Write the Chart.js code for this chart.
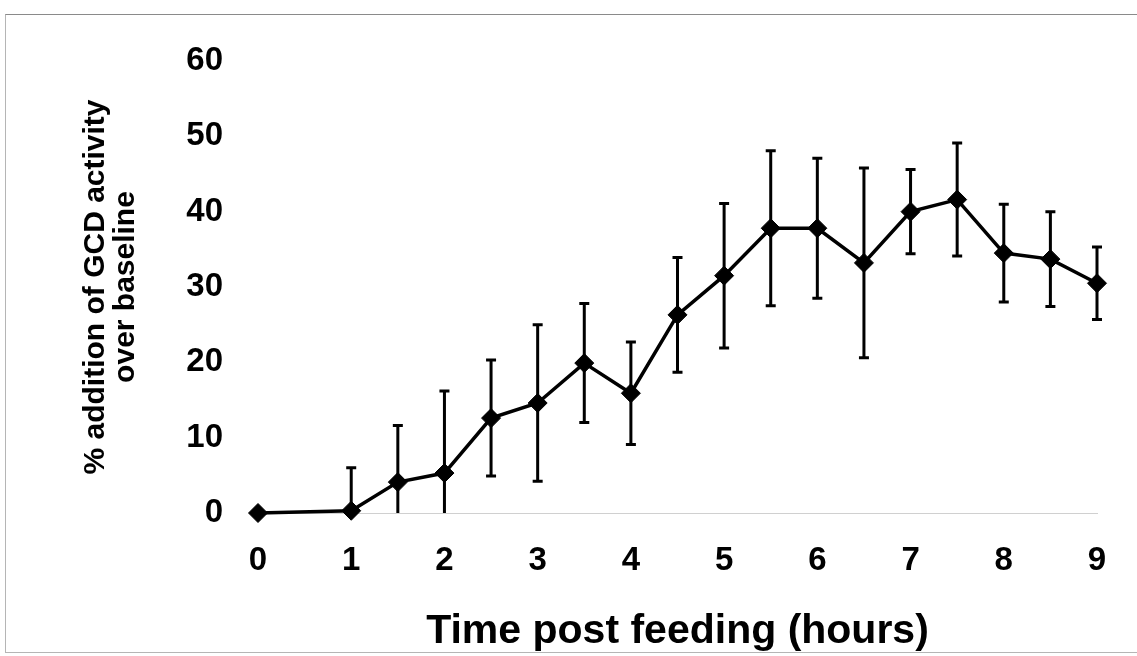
<!doctype html>
<html>

<head>
    <title>GCD activity</title>
    <script src="https://cdn.jsdelivr.net/npm/chart.js"></script>
    <style>
        body {
            margin: 0;
            background: #fff;
        }

        .quadro {
            position: absolute;
            left: 5px;
            top: 14px;
            width: 1140px;
            height: 637px;
            border-left: 1px solid #b5b5b5;
            border-top: 1px solid #8a8a8a;
            border-bottom: 1px solid #b5b5b5;
        }

        #grafico {
            position: absolute;
            left: 0;
            top: 0;
        }
    </style>
</head>

<body>
    <div class="quadro"></div>
    <canvas id="grafico" width="1137" height="656"></canvas>

    <script>
        // horas apos alimentacao
        var horas = [0, 1, 1.5, 2, 2.5, 3, 3.5, 4, 4.5, 5, 5.5, 6, 6.5, 7, 7.5, 8, 8.5, 9]
        // % de adicao da atividade GCD sobre a linha de base
        var medias = [0, 0.3, 4.1, 5.3, 12.6, 14.6, 19.9, 15.9, 26.3, 31.5, 37.8, 37.8, 33.2, 40.0, 41.6, 34.5, 33.7, 30.5]
        // barras de erro (+/-)
        var erros = [0, 5.7, 7.5, 10.9, 7.7, 10.4, 7.9, 6.8, 7.6, 9.6, 10.3, 9.3, 12.6, 5.6, 7.5, 6.5, 6.3, 4.8]
        var ticksX = [0, 1, 2, 3, 4, 5, 6, 7, 8, 9]
        var ticksY = [0, 10, 20, 30, 40, 50, 60]

        var fonte = '"Liberation Sans", Arial, sans-serif'

        var barrasErro = {
            id: 'barrasErro',
            afterDatasetsDraw(chart) {
                var ctx = chart.ctx
                var x = chart.scales.x
                var y = chart.scales.y
                ctx.save()
                ctx.strokeStyle = '#000'
                ctx.lineWidth = 3
                horas.forEach((h, i) => {
                    if (!erros[i]) return
                    var px = x.getPixelForValue(h)
                    var topo = y.getPixelForValue(medias[i] + erros[i])
                    var baixo = medias[i] - erros[i]
                    var corta = baixo < 0
                    var pb = y.getPixelForValue(Math.max(baixo, 0))
                    ctx.beginPath()
                    ctx.moveTo(px, topo)
                    ctx.lineTo(px, pb)
                    ctx.moveTo(px - 5, topo)
                    ctx.lineTo(px + 5, topo)
                    if (!corta) {
                        ctx.moveTo(px - 5, pb)
                        ctx.lineTo(px + 5, pb)
                    }
                    ctx.stroke()
                })
                ctx.restore()
            }
        }

        var grafico = new Chart(document.getElementById('grafico').getContext('2d'), {
            type: 'scatter',
            data: {
                datasets: [{
                    data: horas.map((h, i) => ({ x: h, y: medias[i] })),
                    showLine: true,
                    borderColor: '#000',
                    borderWidth: 3.5,
                    backgroundColor: '#000',
                    pointStyle: 'rectRot',
                    pointRadius: 9.5,
                    pointBackgroundColor: '#000',
                    pointBorderColor: '#000',
                    pointBorderWidth: 1,
                    clip: false
                }]
            },
            options: {
                responsive: false,
                animation: false,
                layout: {
                    padding: { left: 81, top: 61, right: 40, bottom: 0 }
                },
                plugins: {
                    legend: { display: false },
                    tooltip: { enabled: false }
                },
                scales: {
                    x: {
                        type: 'linear',
                        min: 0,
                        max: 9,
                        afterFit: (s) => { s.height = 143 },
                        afterBuildTicks: (s) => { s.ticks = ticksX.map(v => ({ value: v })) },
                        grid: { display: false, drawTicks: false },
                        border: { display: true, color: '#d0d0d0', width: 1, dash: [2, 3] },
                        ticks: {
                            padding: 28,
                            color: '#000',
                            font: { family: fonte, size: 33, weight: 'bold' }
                        },
                        title: {
                            display: true,
                            text: 'Time post feeding (hours)',
                            color: '#000',
                            padding: 0,
                            font: { family: fonte, size: 41, weight: 'bold', lineHeight: 1.2 }
                        }
                    },
                    y: {
                        min: 0,
                        max: 60,
                        afterFit: (s) => { s.width = 177 },
                        afterBuildTicks: (s) => { s.ticks = ticksY.map(v => ({ value: v })) },
                        grid: { display: false, drawTicks: false },
                        border: { display: false },
                        ticks: {
                            padding: 35,
                            color: '#000',
                            font: { family: fonte, size: 33, weight: 'bold' }
                        },
                        title: {
                            display: true,
                            text: ['% addition of GCD activity', 'over baseline'],
                            color: '#000',
                            padding: 0,
                            font: { family: fonte, size: 30, weight: 'bold', lineHeight: 1.0 }
                        }
                    }
                }
            },
            plugins: [barrasErro]
        });
    </script>
</body>

</html>
